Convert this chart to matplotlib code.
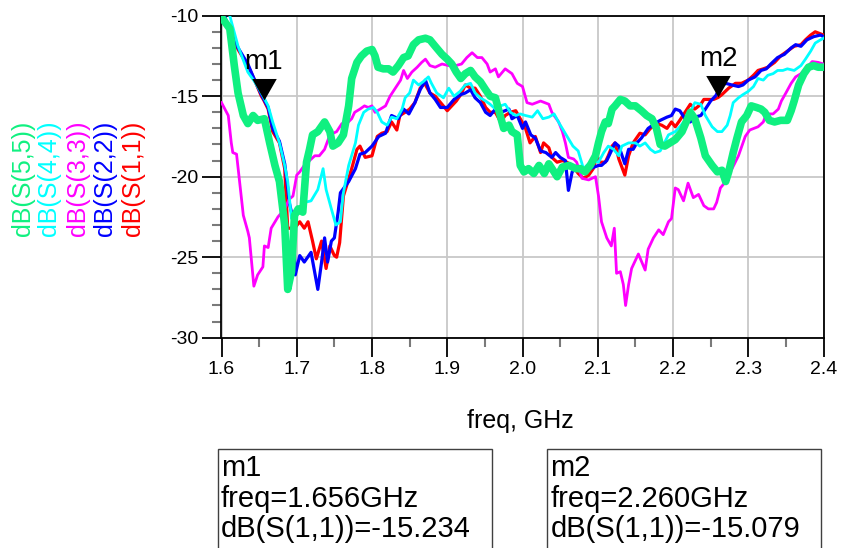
import numpy as np
import matplotlib
matplotlib.use("Agg")
import matplotlib.pyplot as plt
from matplotlib.patches import Rectangle

# --- data (freq in GHz, magnitude in dB) ---

f_s11 = [1.600, 1.622, 1.635, 1.644, 1.653, 1.656, 1.662, 1.668, 1.677, 1.684, 1.688,
         1.697, 1.704, 1.710, 1.715, 1.721, 1.726, 1.733, 1.739, 1.744, 1.750, 1.753,
         1.757, 1.762, 1.766, 1.773, 1.780, 1.784, 1.791, 1.800, 1.807, 1.813, 1.820,
         1.826, 1.833, 1.837, 1.844, 1.850, 1.857, 1.864, 1.870, 1.877, 1.884, 1.893,
         1.900, 1.906, 1.912, 1.918, 1.924, 1.931, 1.937, 1.944, 1.951, 1.957, 1.964,
         1.971, 1.977, 1.984, 1.991, 1.997, 2.004, 2.010, 2.017, 2.024, 2.028, 2.035,
         2.039, 2.046, 2.053, 2.059, 2.068, 2.074, 2.081, 2.088, 2.094, 2.099, 2.103,
         2.110, 2.114, 2.119, 2.123, 2.128, 2.136, 2.141, 2.147, 2.156, 2.163, 2.170,
         2.178, 2.185, 2.192, 2.198, 2.203, 2.209, 2.216, 2.223, 2.229, 2.237, 2.241,
         2.248, 2.254, 2.260, 2.265, 2.274, 2.283, 2.291, 2.300, 2.307, 2.313, 2.320,
         2.326, 2.335, 2.343, 2.352, 2.361, 2.370, 2.376, 2.383, 2.389, 2.400]
db_s11 = [-9.7, -12.1, -13.1, -14.0, -15.0, -15.234, -15.8, -17.2, -17.9, -19.5, -23.2,
          -23.2, -22.8, -23.2, -22.8, -24.0, -25.1, -24.0, -25.7, -24.3, -24.9, -25.0,
          -24.1, -21.2, -20.6, -19.5, -18.3, -18.1, -18.8, -18.7, -17.5, -17.3, -17.2,
          -16.6, -17.1, -16.2, -16.0, -15.8, -15.4, -14.5, -14.2, -14.8, -15.0, -15.5,
          -15.9, -15.6, -15.3, -14.9, -14.3, -14.5, -14.5, -15.0, -15.7, -16.0, -16.0,
          -16.6, -16.2, -16.0, -15.9, -16.4, -17.0, -17.9, -17.5, -18.5, -17.9, -18.2,
          -18.8, -19.1, -19.0, -19.1, -19.4, -19.8, -20.1, -19.9, -19.5, -18.7, -19.1,
          -19.1, -18.7, -18.1, -17.9, -18.9, -19.9, -18.7, -17.9, -17.3, -17.4, -17.0,
          -16.7, -16.8, -17.0, -16.6, -16.9, -16.5, -16.0, -15.5, -15.8, -15.5, -15.2,
          -15.2, -15.2, -15.079, -14.9, -14.5, -14.2, -14.2, -14.0, -13.7, -13.4, -13.3,
          -13.2, -12.9, -12.5, -12.2, -11.9, -11.8, -11.5, -11.2, -11.0, -11.2]

f_s22 = [1.600, 1.622, 1.635, 1.644, 1.653, 1.662, 1.668, 1.677, 1.684, 1.688, 1.690,
         1.695, 1.698, 1.704, 1.710, 1.719, 1.728, 1.733, 1.737, 1.741, 1.746, 1.750,
         1.755, 1.758, 1.769, 1.778, 1.784, 1.791, 1.800, 1.809, 1.818, 1.826, 1.835,
         1.842, 1.849, 1.857, 1.864, 1.871, 1.877, 1.884, 1.891, 1.900, 1.909, 1.918,
         1.924, 1.931, 1.937, 1.944, 1.951, 1.957, 1.964, 1.971, 1.977, 1.982, 1.986,
         1.993, 2.000, 2.004, 2.011, 2.017, 2.024, 2.031, 2.039, 2.044, 2.050, 2.057,
         2.061, 2.066, 2.073, 2.077, 2.083, 2.090, 2.101, 2.105, 2.112, 2.119, 2.123,
         2.128, 2.136, 2.141, 2.147, 2.152, 2.158, 2.167, 2.176, 2.183, 2.192, 2.198,
         2.203, 2.209, 2.216, 2.223, 2.229, 2.237, 2.243, 2.250, 2.257, 2.263, 2.270,
         2.278, 2.287, 2.293, 2.300, 2.309, 2.317, 2.324, 2.330, 2.339, 2.348, 2.357,
         2.363, 2.370, 2.378, 2.387, 2.396, 2.400]
db_s22 = [-9.6, -12.0, -13.0, -14.0, -14.9, -15.7, -17.0, -17.8, -19.2, -20.7, -21.6,
          -22.6, -26.1, -24.9, -25.3, -24.7, -27.0, -25.3, -23.8, -25.3, -24.0, -23.8,
          -22.2, -21.0, -20.3, -19.5, -18.6, -18.5, -18.1, -17.5, -17.3, -16.2, -16.4,
          -15.8, -16.1, -15.4, -14.6, -14.0, -14.8, -15.2, -15.7, -15.7, -15.2, -14.9,
          -14.8, -14.6, -15.1, -15.4, -16.0, -16.2, -15.8, -16.0, -15.9, -15.8, -16.4,
          -16.2, -17.0, -16.6, -17.4, -17.6, -18.4, -18.5, -18.8, -18.5, -18.8, -19.0,
          -20.85, -19.7, -19.4, -19.5, -19.8, -19.5, -19.3, -19.3, -19.0, -18.3, -17.9,
          -18.1, -19.2, -18.3, -18.3, -17.9, -17.6, -17.0, -16.7, -16.5, -16.3, -16.2,
          -15.8, -15.9, -16.4, -16.6, -16.3, -16.2, -15.8, -15.3, -14.96, -14.4, -14.2,
          -14.3, -14.4, -14.3, -14.0, -13.8, -13.4, -13.3, -13.0, -12.6, -12.4, -12.0,
          -11.8, -11.9, -11.5, -11.3, -11.2, -11.3]

f_s33 = [1.600, 1.609, 1.613, 1.615, 1.620, 1.629, 1.635, 1.637, 1.643, 1.648, 1.655,
         1.657, 1.662, 1.666, 1.675, 1.684, 1.690, 1.695, 1.700, 1.704, 1.710, 1.717,
         1.724, 1.730, 1.737, 1.744, 1.753, 1.760, 1.764, 1.773, 1.777, 1.784, 1.790,
         1.795, 1.800, 1.804, 1.811, 1.818, 1.824, 1.831, 1.838, 1.842, 1.847, 1.853,
         1.860, 1.866, 1.871, 1.877, 1.884, 1.893, 1.902, 1.911, 1.919, 1.926, 1.933,
         1.940, 1.946, 1.953, 1.957, 1.964, 1.968, 1.977, 1.986, 1.993, 2.000, 2.006,
         2.013, 2.024, 2.035, 2.039, 2.048, 2.053, 2.057, 2.061, 2.068, 2.072, 2.079,
         2.088, 2.097, 2.101, 2.105, 2.112, 2.118, 2.122, 2.125, 2.130, 2.134, 2.137,
         2.141, 2.145, 2.154, 2.163, 2.167, 2.174, 2.181, 2.187, 2.194, 2.198, 2.203,
         2.207, 2.214, 2.220, 2.227, 2.234, 2.241, 2.247, 2.254, 2.258, 2.263, 2.270,
         2.287, 2.296, 2.302, 2.313, 2.320, 2.324, 2.333, 2.340, 2.344, 2.350, 2.357,
         2.363, 2.370, 2.378, 2.385, 2.393, 2.400]
db_s33 = [-15.4, -16.2, -17.9, -18.5, -18.6, -22.4, -23.4, -23.8, -26.8, -26.1, -25.6,
          -24.3, -24.4, -23.2, -22.5, -22.0, -21.4, -21.2, -19.9, -19.7, -19.3, -19.0,
          -18.7, -18.7, -18.3, -17.4, -17.2, -16.7, -16.8, -16.4, -16.0, -15.8, -15.6,
          -15.7, -15.6, -16.0, -15.8, -15.6, -15.0, -14.5, -14.0, -13.4, -13.9, -13.5,
          -13.2, -12.9, -12.7, -13.1, -13.2, -13.0, -13.1, -13.1, -13.0, -12.6, -12.3,
          -12.6, -12.6, -13.0, -13.5, -13.3, -13.8, -13.3, -13.6, -14.2, -14.4, -15.4,
          -15.5, -15.3, -15.5, -16.0, -16.6, -17.2, -17.9, -18.8, -18.9, -19.1, -20.1,
          -20.2, -20.0, -21.2, -22.8, -23.8, -24.3, -23.2, -26.0, -25.9, -26.7, -28.0,
          -26.7, -25.7, -24.8, -25.8, -24.5, -23.8, -23.3, -23.6, -22.8, -22.6, -20.7,
          -20.8, -21.5, -20.4, -21.3, -21.1, -21.8, -22.0, -22.0, -21.6, -20.7, -20.3,
          -18.7, -17.5, -17.1, -16.9, -16.6, -16.1, -16.1, -15.8, -15.3, -14.8, -14.2,
          -13.8, -13.6, -13.2, -12.85, -12.9, -13.0]

f_s44 = [1.600, 1.611, 1.622, 1.635, 1.644, 1.653, 1.662, 1.668, 1.677, 1.684, 1.688,
         1.693, 1.702, 1.710, 1.719, 1.728, 1.735, 1.739, 1.746, 1.752, 1.758, 1.762,
         1.769, 1.778, 1.782, 1.789, 1.795, 1.802, 1.807, 1.813, 1.820, 1.826, 1.833,
         1.840, 1.844, 1.850, 1.855, 1.862, 1.868, 1.875, 1.879, 1.886, 1.895, 1.902,
         1.909, 1.917, 1.924, 1.931, 1.937, 1.944, 1.951, 1.957, 1.964, 1.971, 1.977,
         1.984, 1.991, 1.997, 2.004, 2.013, 2.020, 2.027, 2.035, 2.042, 2.049, 2.058,
         2.067, 2.074, 2.081, 2.092, 2.101, 2.108, 2.114, 2.121, 2.128, 2.132, 2.141,
         2.150, 2.156, 2.163, 2.170, 2.176, 2.183, 2.194, 2.203, 2.209, 2.216, 2.223,
         2.229, 2.237, 2.243, 2.252, 2.259, 2.265, 2.272, 2.276, 2.280, 2.287, 2.293,
         2.300, 2.307, 2.313, 2.320, 2.326, 2.333, 2.339, 2.346, 2.352, 2.361, 2.370,
         2.376, 2.383, 2.389, 2.396, 2.400]
db_s44 = [-9.5, -10.0, -11.9, -13.5, -14.1, -14.8, -15.6, -16.6, -17.9, -19.3, -20.3,
          -22.6, -22.0, -21.6, -21.5, -20.8, -19.5, -20.8, -22.0, -23.0, -22.8, -21.0,
          -19.3, -17.9, -16.8, -16.0, -15.8, -15.7, -16.0, -16.6, -16.8, -16.3, -16.4,
          -15.8, -15.1, -14.8, -14.0, -14.3, -14.1, -13.8, -14.2, -14.8, -15.1, -14.5,
          -15.0, -14.7, -14.3, -14.2, -14.8, -15.1, -15.3, -15.5, -15.8, -15.6, -15.5,
          -16.0, -16.2, -16.1, -16.2, -16.3, -15.9, -16.4, -16.3, -16.1, -16.7, -17.4,
          -18.1, -18.4, -19.5, -19.0, -19.1, -18.5, -18.1, -18.3, -18.7, -18.1, -17.9,
          -17.9, -18.1, -17.9, -18.3, -18.5, -18.4, -17.4, -17.2, -16.9, -16.5, -16.0,
          -15.4, -15.5, -16.2, -16.9, -17.2, -17.2, -16.8, -16.2, -15.4, -15.1, -14.9,
          -14.7, -14.4, -13.9, -14.0, -13.7, -13.6, -13.4, -13.4, -13.3, -13.4, -13.1,
          -12.7, -12.2, -11.7, -11.5, -11.4]

f_s55 = [1.600, 1.611, 1.617, 1.622, 1.629, 1.635, 1.642, 1.648, 1.657, 1.664, 1.671,
         1.677, 1.684, 1.688, 1.693, 1.697, 1.702, 1.708, 1.713, 1.717, 1.721, 1.728,
         1.737, 1.744, 1.748, 1.755, 1.762, 1.769, 1.773, 1.780, 1.786, 1.793, 1.800,
         1.804, 1.808, 1.815, 1.822, 1.828, 1.835, 1.842, 1.848, 1.855, 1.862, 1.871,
         1.877, 1.884, 1.893, 1.900, 1.906, 1.912, 1.918, 1.924, 1.931, 1.937, 1.944,
         1.951, 1.957, 1.964, 1.968, 1.975, 1.982, 1.986, 1.993, 1.997, 2.002, 2.008,
         2.015, 2.022, 2.029, 2.035, 2.042, 2.046, 2.053, 2.062, 2.071, 2.077, 2.083,
         2.090, 2.097, 2.101, 2.105, 2.110, 2.114, 2.119, 2.123, 2.130, 2.136, 2.143,
         2.150, 2.158, 2.165, 2.172, 2.178, 2.183, 2.189, 2.196, 2.203, 2.212, 2.223,
         2.229, 2.237, 2.243, 2.252, 2.259, 2.265, 2.270, 2.274, 2.280, 2.285, 2.291,
         2.298, 2.304, 2.311, 2.317, 2.322, 2.328, 2.335, 2.343, 2.352, 2.357, 2.361,
         2.367, 2.374, 2.380, 2.387, 2.393, 2.400]
db_s55 = [-10.1, -10.8, -13.1, -14.8, -16.2, -16.7, -16.2, -16.5, -16.4, -17.9, -19.3,
          -20.3, -23.0, -27.0, -25.9, -22.4, -22.0, -22.2, -19.1, -18.3, -17.4, -17.2,
          -16.6, -17.2, -18.1, -17.9, -17.4, -15.6, -13.9, -12.9, -12.5, -12.2, -12.1,
          -12.5, -13.2, -13.3, -13.3, -13.5, -13.1, -12.6, -12.5, -11.8, -11.5, -11.4,
          -11.5, -11.9, -12.4, -12.7, -13.0, -13.5, -13.9, -13.6, -13.4, -13.8, -14.1,
          -14.6, -15.0, -15.1, -15.8, -17.0, -16.8, -17.2, -17.4, -19.3, -19.7, -19.5,
          -19.8, -19.3, -19.8, -19.2, -19.7, -20.0, -19.4, -19.3, -19.5, -19.5, -19.7,
          -19.3, -18.7, -17.9, -17.2, -16.6, -16.7, -15.8, -15.6, -15.2, -15.3, -15.6,
          -15.6, -15.9, -16.2, -16.4, -17.0, -18.0, -18.1, -17.9, -17.7, -17.2, -16.0,
          -16.4, -17.6, -18.7, -19.3, -19.7, -19.6, -20.3, -19.7, -18.5, -17.6, -16.6,
          -16.2, -15.6, -15.7, -15.8, -16.0, -16.5, -16.6, -16.5, -16.5, -15.9, -15.3,
          -14.3, -13.6, -13.2, -13.1, -13.2, -13.2]

series_names = ['dB(S(5,5))', 'dB(S(4,4))', 'dB(S(3,3))', 'dB(S(2,2))', 'dB(S(1,1))']
series_colors = ['#10f080', '#00ffff', '#ff00ff', '#0000ff', '#ff0000']

marker_names = ['m1', 'm2']
marker_freq = [1.656, 2.260]
marker_db = [-15.234, -15.079]

x_ticks = [1.6, 1.7, 1.8, 1.9, 2.0, 2.1, 2.2, 2.3, 2.4]
y_ticks = [-30, -25, -20, -15, -10]

# --- figure ---
W, H = 844, 548
plt.rcParams['font.family'] = ['Liberation Sans', 'DejaVu Sans']

fig = plt.figure(figsize=(W / 100, H / 100), dpi=100)
ax = fig.add_axes([221.5 / W, 1 - 337.7 / H, 602 / W, 322 / H])

ax.plot(f_s11, db_s11, color='#ff0000', lw=2.3, zorder=3)
ax.plot(f_s22, db_s22, color='#0000ff', lw=2.3, zorder=4)
ax.plot(f_s33, db_s33, color='#ff00ff', lw=2.0, zorder=5)
ax.plot(f_s44, db_s44, color='#00ffff', lw=2.0, zorder=6)
ax.plot(f_s55, db_s55, color='#10f080', lw=5.5, zorder=7,
        solid_joinstyle='round', solid_capstyle='round')

# marker triangles (tip sits on the trace) and their names
tri = [(0, 0), (-0.57, 1), (0.57, 1), (0, 0)]
for name, fm, dm in zip(marker_names, marker_freq, marker_db):
    ax.plot([fm], [dm], marker=tri, markersize=31, color='black',
            markeredgewidth=0, zorder=10, clip_on=False)
    ax.annotate(name, xy=(fm, dm), xytext=(0, 27.5), textcoords='offset points',
                ha='center', va='center', fontsize=20, zorder=11)

ax.set_xlim(1.6, 2.4)
ax.set_ylim(-30, -10)
ax.set_xticks(x_ticks)
ax.set_xticklabels(['%.1f' % v for v in x_ticks])
ax.set_xticks(np.arange(1.65, 2.4, 0.1), minor=True)
ax.set_yticks(y_ticks)
ax.set_yticklabels([str(v) for v in y_ticks])
ax.set_yticks([v for v in range(-29, -10) if v % 5 != 0], minor=True)

ax.tick_params(which='major', direction='out', length=13.5, width=1.3,
               color='black', labelsize=14, pad=3)
ax.tick_params(which='minor', direction='out', length=6.5, width=1.5,
               color='#7a7a7a')
ax.grid(which='major', color='#c8c8c8', lw=1.3)
ax.set_axisbelow(True)
for s in ax.spines.values():
    s.set_color('black')
    s.set_linewidth(1.3)

# vertical legend labels on the left
legend_x = [22.7, 49.5, 78.0, 105.0, 133.0]
for name, col, lx in zip(series_names, series_colors, legend_x):
    fig.text(lx / W, 1 - 178.5 / H, name, color=col, rotation=90,
             ha='center', va='center', fontsize=18)

fig.text(520 / W, 1 - 421 / H, 'freq, GHz', ha='center', va='center', fontsize=18)

# marker readout boxes
box_left = [218, 547.3]
for i, (name, fm, dm) in enumerate(zip(marker_names, marker_freq, marker_db)):
    bx = box_left[i]
    fig.patches.append(Rectangle((bx / W, 1 - 548.5 / H), 274 / W, 100 / H,
                                 transform=fig.transFigure, fill=False,
                                 edgecolor='#404040', lw=1.0))
    lines = [name, 'freq=%.3fGHz' % fm, 'dB(S(1,1))=%.3f' % dm]
    for k, (txt, base) in enumerate(zip(lines, [476, 506.7, 537.3])):
        fig.text((bx + 3) / W, 1 - base / H, txt, ha='left', va='baseline',
                 fontsize=21)

plt.savefig('out.png', dpi=100)
